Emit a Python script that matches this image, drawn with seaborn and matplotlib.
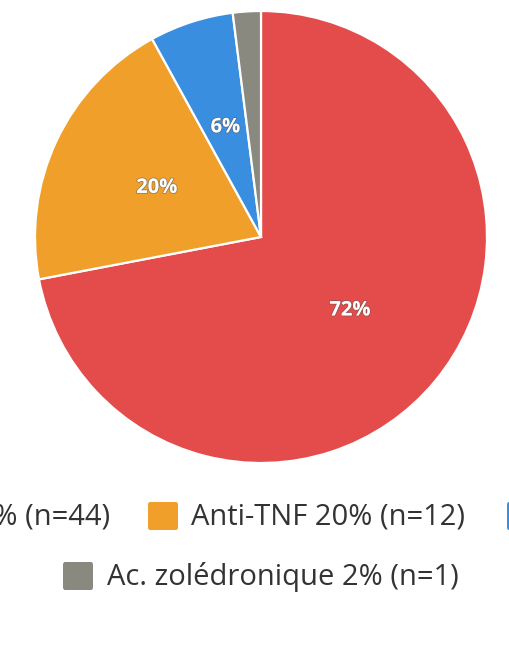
import matplotlib
matplotlib.use("Agg")
import matplotlib.pyplot as plt
import matplotlib.patheffects as pe
from matplotlib.patches import FancyBboxPatch
import seaborn as sns

# data
labels = ["Méthotrexate", "Anti-TNF", "Anti-IL6", "Ac. zolédronique"]
percents = [72, 20, 6, 2]
counts = [44, 12, 4, 1]
colors = ["#E44C4B", "#F0A02A", "#3A8EE0", "#8A8980"]

sns.set_style("white")
plt.rcParams["font.family"] = ["Open Sans", "DejaVu Sans"]

W, H = 509, 660
fig = plt.figure(figsize=(W / 100, H / 100), dpi=100)

# pie: center (261, 237) px, radius 226 px
cx, cy, r = 261, 237, 226
ax = fig.add_axes([(cx - r) / W, 1 - (cy + r) / H, 2 * r / W, 2 * r / H])
wedges, texts = ax.pie(
    percents, colors=colors, startangle=90, counterclock=False,
    labels=[f"{p}%" if p >= 5 else "" for p in percents], labeldistance=0.51,
    wedgeprops=dict(edgecolor="white", linewidth=1.6),
    textprops=dict(color="white", fontsize=14.5, fontweight="bold"),
)
for t in texts:
    t.set_ha("center")
    t.set_va("center")
    t.set_path_effects([pe.withStroke(linewidth=1.2, foreground="#55555580")])
ax.set_xlim(-1, 1)
ax.set_ylim(-1, 1)
ax.set_aspect("equal")
ax.axis("off")


def px(x, y):
    return x / W, 1 - y / H


def legend_item(i, box_x, box_y, text_x=None, text_right=None):
    bx, by = px(box_x, box_y + 28)
    fig.patches.append(FancyBboxPatch(
        (bx, by), 30 / W, 28 / H, boxstyle="round,pad=0,rounding_size=0.004",
        transform=fig.transFigure, facecolor=colors[i], edgecolor="none"))
    txt = f"{labels[i]} {percents[i]}% (n={counts[i]})"
    if text_right is not None:
        fig.text(*px(text_right, box_y + 15), txt, ha="right", va="center",
                 fontsize=21, color="#333333")
    else:
        fig.text(*px(text_x, box_y + 15), txt, ha="left", va="center",
                 fontsize=21, color="#333333")


legend_item(0, -600, 502, text_right=110)
legend_item(1, 148, 502, text_x=191)
legend_item(2, 507, 502, text_x=550)
legend_item(3, 63, 562, text_x=107)

fig.savefig("out.png", dpi=100, facecolor="white")
